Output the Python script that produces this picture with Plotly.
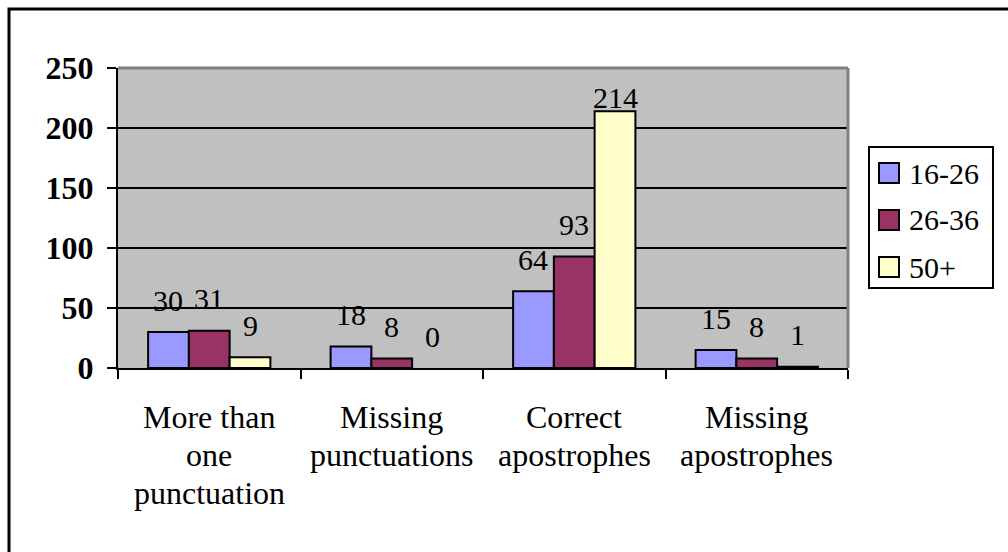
import plotly.graph_objects as go

# Chart data
categories = ["More than\none\npunctuation", "Missing\npunctuations",
              "Correct\napostrophes", "Missing\napostrophes"]
series_names = ["16-26", "26-36", "50+"]
values_16_26 = [30, 18, 64, 15]
values_26_36 = [31, 8, 93, 8]
values_50_plus = [9, 0, 214, 1]
y_tick_values = [0, 50, 100, 150, 200, 250]

series_values = [values_16_26, values_26_36, values_50_plus]
series_colors = ["#9999FF", "#993366", "#FFFFCC"]

FONT = "Liberation Serif"
W, H = 1008, 552
L, R, T, B = 118, 160, 68, 184
PLOT_W, PLOT_H = W - L - R, H - T - B
Y_MAX = 250
BARGAP = 0.33
px_per_unit = PLOT_H / Y_MAX


def px_x(px):
    return (px - L) / PLOT_W


def px_y(py):
    return (H - B - py) / PLOT_H


cat_keys = [c.replace("\n", " ") for c in categories]

fig = go.Figure()
for name, vals, color in zip(series_names, series_values, series_colors):
    fig.add_trace(go.Bar(
        x=cat_keys, y=vals, name=name, showlegend=False,
        marker=dict(color=color,
                    line=dict(color="black", width=[2 if v else 0 for v in vals])),
    ))

annotations = []

# Value labels above each bar
bar_w = PLOT_W / len(categories) * (1 - BARGAP) / len(series_names)
for k, vals in enumerate(series_values):
    for i, v in enumerate(vals):
        bar_top = (H - B) - v * px_per_unit
        shift = min(32, bar_top - 97)
        annotations.append(dict(
            x=cat_keys[i], y=v, xref="x", yref="y",
            text=str(v), showarrow=False,
            xshift=(k - 1) * bar_w, yshift=shift, yanchor="middle",
            font=dict(family=FONT, size=30, color="black"),
        ))

# Category labels, one line at a time
for i, cat in enumerate(categories):
    for j, line in enumerate(cat.split("\n")):
        annotations.append(dict(
            x=cat_keys[i], xref="x", y=px_y(417 + 38 * j), yref="paper",
            text=line, showarrow=False, yanchor="middle",
            font=dict(family=FONT, size=32, color="black"),
        ))

# Legend
leg_x0, leg_x1, leg_y0, leg_y1 = 869, 993, 147, 288
shapes = [
    # outer chart frame
    dict(type="rect", xref="paper", yref="paper",
         x0=px_x(9), x1=px_x(1020), y0=px_y(9), y1=px_y(570),
         line=dict(color="black", width=3), fillcolor="rgba(0,0,0,0)", layer="below"),
    # plot area top and right edges
    dict(type="line", xref="paper", yref="paper", x0=0, x1=1, y0=1, y1=1,
         line=dict(color="#808080", width=3)),
    dict(type="line", xref="paper", yref="paper", x0=1, x1=1, y0=0, y1=1,
         line=dict(color="#808080", width=3)),
    dict(type="rect", xref="paper", yref="paper",
         x0=px_x(leg_x0), x1=px_x(leg_x1), y0=px_y(leg_y0), y1=px_y(leg_y1),
         line=dict(color="black", width=2), fillcolor="white"),
]
for k, (name, color) in enumerate(zip(series_names, series_colors)):
    cy = 173 + 47 * k
    shapes.append(dict(
        type="rect", xref="paper", yref="paper",
        x0=px_x(879), x1=px_x(899), y0=px_y(cy - 10), y1=px_y(cy + 10),
        line=dict(color="black", width=2), fillcolor=color))
    annotations.append(dict(
        x=px_x(907), y=px_y(cy), xref="paper", yref="paper",
        text=name, showarrow=False, xanchor="left", yanchor="middle",
        font=dict(family=FONT, size=30, color="black")))

fig.update_layout(
    width=W, height=H,
    margin=dict(l=L, r=R, t=T, b=B, pad=0),
    paper_bgcolor="white", plot_bgcolor="#C0C0C0",
    barmode="group", bargap=BARGAP, bargroupgap=0,
    font=dict(family=FONT, color="black"),
    shapes=shapes, annotations=annotations,
    xaxis=dict(
        type="category", showticklabels=False, tickson="boundaries",
        ticks="outside", ticklen=9, tickwidth=2, tickcolor="black",
        showline=True, linecolor="black", linewidth=2, showgrid=False,
        range=[-0.5, len(categories) - 0.5], fixedrange=True,
    ),
    yaxis=dict(
        range=[0, Y_MAX], tickvals=y_tick_values,
        ticks="outside", ticklen=9, tickwidth=2, tickcolor="black",
        tickfont=dict(family=FONT, size=32, color="black", weight="bold"),
        showline=True, linecolor="black", linewidth=2,
        showgrid=True, gridcolor="black", gridwidth=2,
        zeroline=False, ticklabelstandoff=7,
    ),
)

fig.write_html("out.html")
